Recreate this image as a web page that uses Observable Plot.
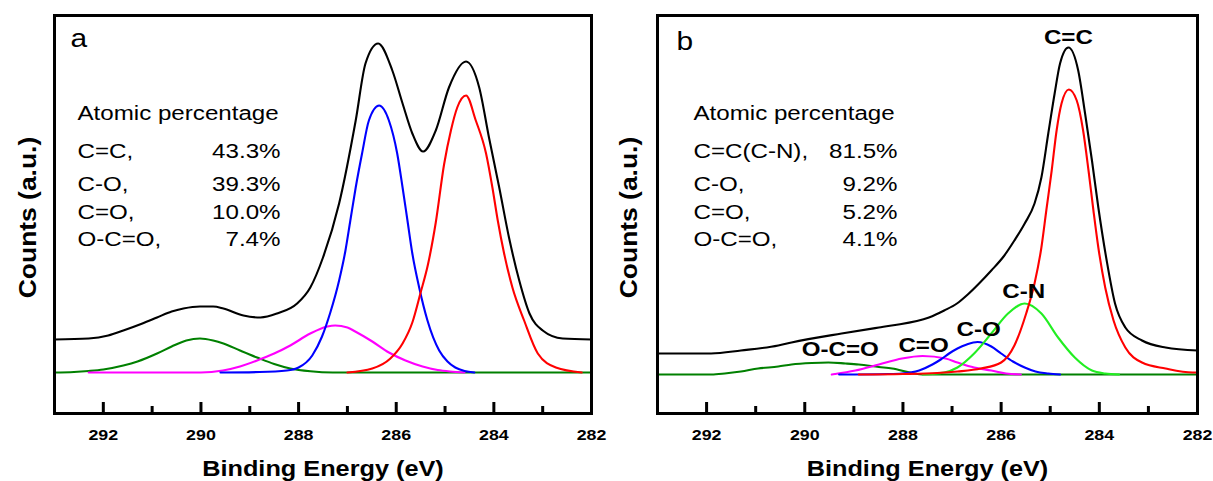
<!DOCTYPE html>
<html><head><meta charset="utf-8">
<script src="https://cdn.jsdelivr.net/npm/d3@7"></script>
<script src="https://cdn.jsdelivr.net/npm/@observablehq/plot@0.6"></script>
<style>
body{margin:0;background:#fff;}
#wrap{position:relative;width:1213px;height:481px;overflow:hidden;background:#fff;}
#wrap svg{position:absolute;top:0;overflow:visible;}
</style></head><body><div id="wrap"></div>
<script>
// ---------- data ----------
const majorTicks = [292, 290, 288, 286, 284, 282];
const minorTicks = [291, 289, 287, 285, 283];
const xLabel = "Binding Energy (eV)";
const yLabel = "Counts (a.u.)";
const panelTags = ["a", "b"];
const tableTitle = "Atomic percentage";
const speciesA = ["C=C,", "C-O,", "C=O,", "O-C=O,"];
const percentA = ["43.3%", "39.3%", "10.0%", "7.4%"];
const speciesB = ["C=C(C-N),", "C-O,", "C=O,", "O-C=O,"];
const percentB = ["81.5%", "9.2%", "5.2%", "4.1%"];
const peakNamesB = ["C=C", "C-N", "C-O", "C=O", "O-C=O"];

// curves: [binding energy (eV), counts (a.u.)] — panel a
const envelopeA = [[293,33],[292.3,34],[291.9,37],[291.59,42],[291.2,49],[290.9,55],[290.6,61],[290.36,64],[290.02,66],[289.75,66],[289.54,64],[289.13,57],[288.78,55],[288.44,59],[288.03,69],[287.76,85],[287.5,115],[287.17,169],[286.83,252],[286.63,309],[286.37,329],[286.08,302],[285.87,269],[285.67,239],[285.45,221],[285.19,242],[284.92,285],[284.57,311],[284.3,285],[284.1,235],[283.89,185],[283.69,135],[283.48,92],[283.27,59],[283.0,42],[282.59,34],[282,33]];
const ccA = [[287.0,0],[286.49,4],[286.12,14],[285.87,29],[285.67,50],[285.5,80],[285.35,108],[285.19,150],[285.02,208],[284.88,242],[284.75,265],[284.57,277],[284.37,252],[284.16,219],[284.03,185],[283.92,152],[283.79,119],[283.62,85],[283.38,52],[283.1,19],[282.73,5],[282.2,0]];
const coA = [[289.6,0],[288.8,0.5],[288.24,2],[288.0,5],[287.72,17],[287.52,36],[287.35,60],[287.17,92],[287.04,122],[286.94,152],[286.83,185],[286.7,219],[286.56,252],[286.35,267],[286.15,252],[285.98,219],[285.87,185],[285.77,152],[285.67,119],[285.53,85],[285.36,52],[285.12,22],[284.95,11],[284.79,5],[284.6,1.5],[284.4,0]];
const c_oA = [[292.3,0],[290.0,0],[289.55,2],[289.2,6],[288.85,12],[288.5,19],[288.17,27],[287.76,39],[287.41,46],[287.25,47],[287.0,45],[286.84,41],[286.49,31],[286.15,20],[285.81,12],[285.46,6],[285.15,2.5],[284.9,1],[284.6,0]];
const occA = [[293,0],[292.6,0.5],[292.3,1.5],[292.0,3],[291.59,7],[291.3,11],[290.9,19],[290.6,26],[290.3,32],[290.02,34],[289.75,32],[289.54,29],[289.2,22],[288.85,15],[288.5,8.5],[288.17,4],[287.76,1.2],[287.3,0],[282,0]];

// panel b
const envelopeB = [[293,21],[291.91,21],[291.3,24],[290.54,29],[290.27,32],[289.25,41],[288.49,47],[288.23,49],[287.47,57],[287.16,64],[286.9,71],[286.68,80],[286.45,91],[286.2,104],[285.95,118],[285.73,134],[285.52,151],[285.32,171],[285.18,197],[285.04,241],[284.91,281],[284.8,311],[284.63,327],[284.43,304],[284.29,261],[284.15,214],[284.02,167],[283.85,114],[283.68,71],[283.47,47],[283.13,34],[282.65,27],[282,24]];
const ccB = [[288.9,0],[288.0,0.5],[287.3,1.5],[286.89,3],[286.41,6],[286.0,12],[285.73,29],[285.49,61],[285.32,91],[285.18,127],[285.08,164],[284.97,204],[284.87,244],[284.77,271],[284.62,285],[284.46,274],[284.33,244],[284.22,204],[284.12,164],[284.02,127],[283.88,87],[283.71,54],[283.47,27],[283.13,12],[282.65,6],[282.1,2],[282,2]];
const cnB = [[287.6,0],[287.16,2],[286.89,7],[286.55,21],[286.2,41],[285.86,61],[285.52,71],[285.18,61],[284.84,37],[284.5,17],[284.15,4],[283.88,1],[283.6,0]];
const coB = [[289.3,0],[288.3,0.5],[288.02,1],[287.67,4],[287.4,10],[287.23,15],[287.06,21],[286.89,26],[286.7,30],[286.48,32.5],[286.2,28],[286.0,21],[285.76,13],[285.52,7],[285.3,3],[285.04,1],[284.8,0]];
const c_oB = [[289.45,0],[289.38,0.5],[288.97,4],[288.49,10],[288.02,16],[287.6,18.5],[287.13,16],[286.89,12],[286.55,7],[286.2,4],[285.9,1],[285.6,0]];
const occB = [[293,0],[291.9,0],[291.63,1],[291.3,3],[290.95,6],[290.54,8],[290.27,10],[289.86,11.5],[289.52,12],[289.17,11],[288.9,10],[288.49,7.5],[288.22,6],[287.82,1.5],[287.6,0],[282,0]];

// ---------- drawing ----------
const FONT = "'Liberation Sans', Arial, Helvetica, sans-serif";
const STRETCH = 1.15;
const H = 481, MT = 15, MB = 68;
const colors = {env: "#000000", cc: "#ff0000", co: "#0000ff", c_o: "#ff00ff", occ: "#008000", cn: "#22ee22"};

function curve(data, stroke) {
  return Plot.line(data, {x: d => d[0], y: d => d[1], stroke, strokeWidth: 2.1, curve: "monotone-x"});
}
function label(text, o) {
  return Plot.text([text], {text: d => d, frameAnchor: o.frameAnchor ?? "top-left", dx: o.dx ?? 0, dy: o.dy ?? 0,
    textAnchor: o.anchor ?? "start", lineAnchor: o.line ?? "bottom", fontSize: o.size ?? 21,
    fontWeight: o.weight ?? "normal", rotate: o.rotate ?? 0, fill: "black"});
}

function panel(cfg) {
  const y0 = cfg.yDomain[0];   // bottom edge of the frame, in counts
  const marks = [];
  for (const [data, c] of cfg.series) marks.push(curve(data, c));
  marks.push(Plot.frame({stroke: "black", strokeWidth: 3}));
  // inward ticks standing on the bottom edge
  marks.push(Plot.ruleX(majorTicks, {x: d => d, y1: y0, y2: y0 + 11, stroke: "black", strokeWidth: 3}));
  marks.push(Plot.ruleX(minorTicks, {x: d => d, y1: y0, y2: y0 + 7, stroke: "black", strokeWidth: 3}));
  // tick labels
  marks.push(Plot.axisX({ticks: majorTicks, tickSize: 0, tickPadding: 15, tickFormat: d => String(d),
    fontSize: 15.5, fontWeight: "bold", label: null, anchor: "bottom"}));
  marks.push(label(xLabel, {frameAnchor: "bottom", dy: 62, anchor: "middle", size: 22, weight: "bold"}));
  marks.push(label(yLabel, {frameAnchor: "left", dx: cfg.yLabelDx, dy: 3, anchor: "middle", line: "middle", size: 23, weight: "bold", rotate: -90}));
  marks.push(label(cfg.tag, {dx: cfg.tagDx, dy: cfg.tagDy, size: 26}));
  marks.push(label(tableTitle, {dx: cfg.textDx, dy: 104}));
  const rowDy = [142, 175, 203, 230];
  cfg.species.forEach((s, i) => {
    marks.push(label(s, {dx: cfg.textDx, dy: rowDy[i]}));
    marks.push(label(cfg.percent[i], {dx: cfg.valueDx, dy: rowDy[i], anchor: "end"}));
  });
  if (cfg.peaks) {
    cfg.peaks.forEach((p) => {
      const top = d3.greatest(p.data, d => d[1]);
      marks.push(Plot.text([top], {x: d => d[0], y: d => d[1], text: () => p.name, dx: p.dx, dy: p.dy,
        lineAnchor: "bottom", textAnchor: "middle", fontSize: 21, fontWeight: "bold", fill: "black"}));
    });
  }
  const svg = Plot.plot({
    width: cfg.width, height: H,
    marginLeft: cfg.ml, marginRight: cfg.mr, marginTop: MT, marginBottom: MB,
    x: {domain: [293, 282], axis: null},
    y: {domain: cfg.yDomain, axis: null},
    style: {fontFamily: FONT, background: "transparent", overflow: "visible"},
    marks
  });
  svg.querySelectorAll("text").forEach(t => {
    const tr = t.getAttribute("transform") || "";
    t.setAttribute("transform", (tr + ` scale(${STRETCH},1)`).trim());
  });
  svg.style.left = cfg.left + "px";
  return svg;
}

const wrap = document.getElementById("wrap");
wrap.appendChild(panel({
  left: 0, width: 606, ml: 54, mr: 15, yDomain: [-41, 357],
  series: [[occA, colors.occ], [c_oA, colors.c_o], [coA, colors.co], [ccA, colors.cc], [envelopeA, colors.env]],
  tag: panelTags[0], tagDx: 16, tagDy: 31, textDx: 23, valueDx: 226, yLabelDx: -26,
  species: speciesA, percent: percentA
}));
wrap.appendChild(panel({
  left: 606, width: 607, ml: 51, mr: 16, yDomain: [-39, 359],
  series: [[occB, colors.occ], [c_oB, colors.c_o], [coB, colors.co], [cnB, colors.cn], [ccB, colors.cc], [envelopeB, colors.env]],
  tag: panelTags[1], tagDx: 19, tagDy: 34, textDx: 36, valueDx: 240, yLabelDx: -28,
  species: speciesB, percent: percentB,
  peaks: [
    {name: peakNamesB[0], data: envelopeB, dx: 0, dy: -4},
    {name: peakNamesB[1], data: cnB, dx: -1, dy: -6},
    {name: peakNamesB[2], data: coB, dx: 1, dy: -6.5},
    {name: peakNamesB[3], data: c_oB, dx: 1, dy: -4},
    {name: peakNamesB[4], data: occB, dx: 12, dy: -7}
  ]
}));
</script>
</body></html>
